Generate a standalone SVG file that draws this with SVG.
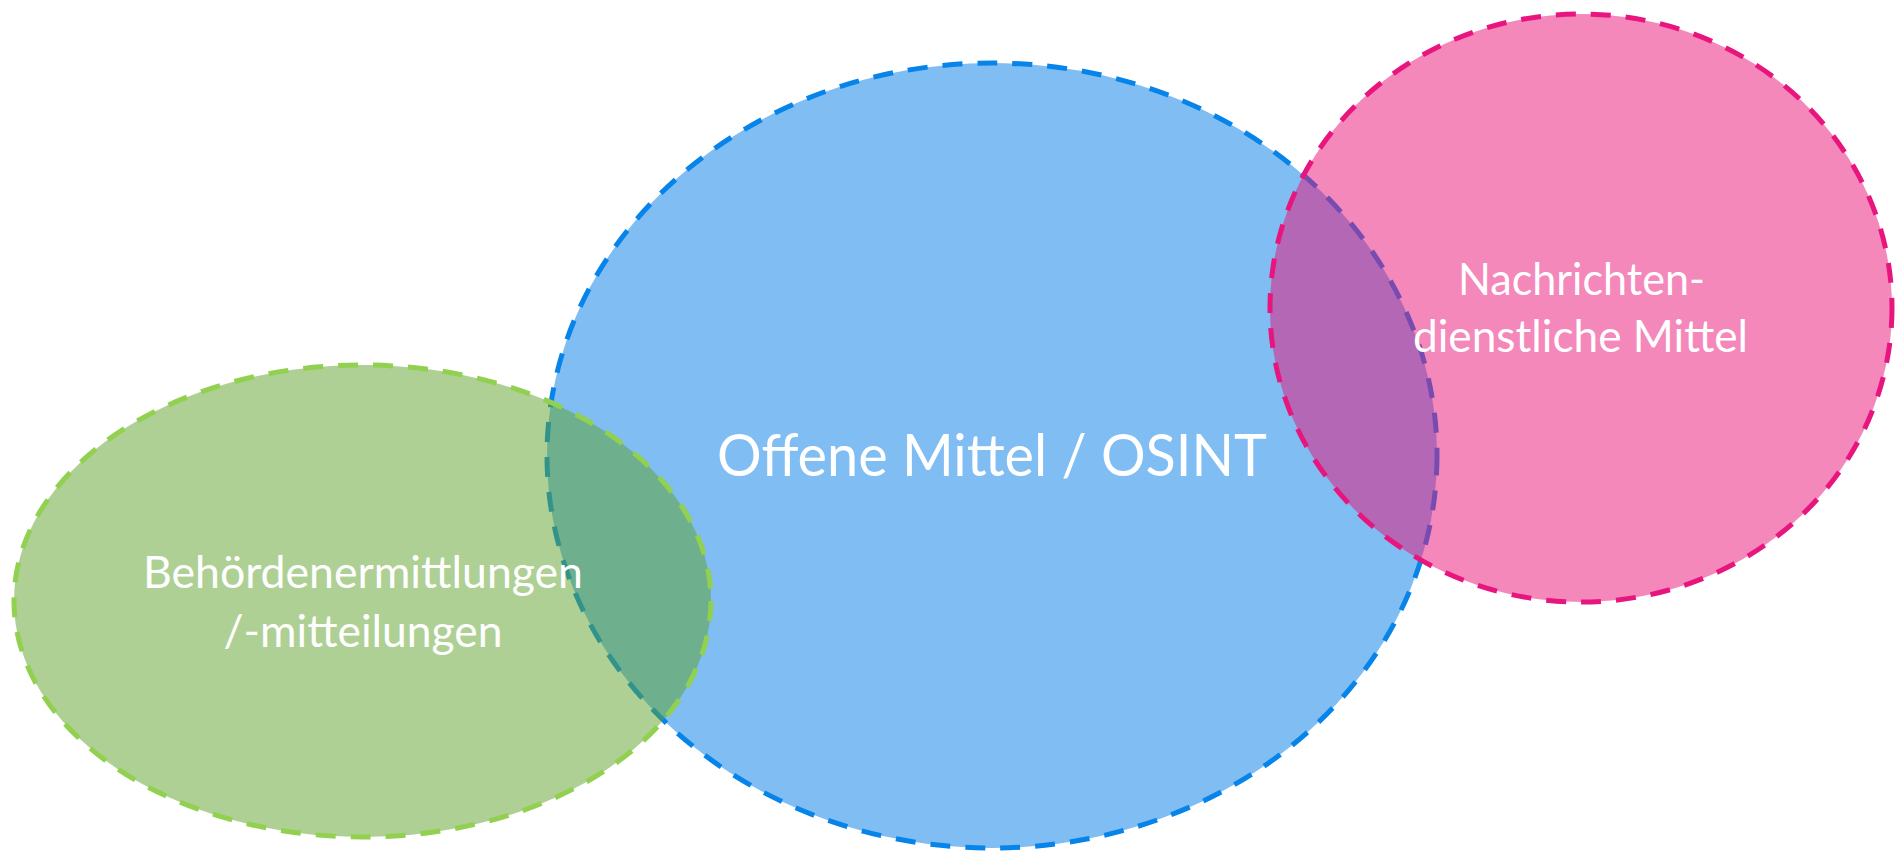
<svg xmlns="http://www.w3.org/2000/svg" width="1896" height="852" viewBox="0 0 1896 852">
<style>
  .shape { stroke-width: 5; stroke-dasharray: 20 15; fill-opacity: 0.5; }
  .lbl { font-family: Lato, "Open Sans", "Liberation Sans", sans-serif; fill: #FFFFFF; text-anchor: middle; }
  .sm { font-size: 44px; }
  .lg { font-size: 58px; }
</style>
<rect width="1896" height="852" fill="#FFFFFF"/>
<g id="osint">
  <ellipse class="shape" cx="992" cy="455.5" rx="445" ry="392.5" fill="#007BE7" stroke="#0684EA"/>
  <text class="lbl lg" x="992" y="476" textLength="550" lengthAdjust="spacingAndGlyphs">Offene Mittel / OSINT</text>
</g>
<g id="behoerden">
  <ellipse class="shape" cx="362.5" cy="601" rx="348.5" ry="236" fill="#5DA129" stroke="#92D050"/>
  <text class="lbl sm" x="363" y="588" textLength="440" lengthAdjust="spacingAndGlyphs">Behördenermittlungen</text>
  <text class="lbl sm" x="363" y="647" textLength="279" lengthAdjust="spacingAndGlyphs">/-mitteilungen</text>
</g>
<g id="nachrichtendienst">
  <ellipse class="shape" cx="1581" cy="308" rx="311" ry="294" fill="#E91175" stroke="#E8157F"/>
  <text class="lbl sm" x="1581.5" y="295" textLength="247" lengthAdjust="spacingAndGlyphs">Nachrichten-</text>
  <text class="lbl sm" x="1580.5" y="352" textLength="335" lengthAdjust="spacingAndGlyphs">dienstliche Mittel</text>
</g>
<g id="connectors"></g>
</svg>
